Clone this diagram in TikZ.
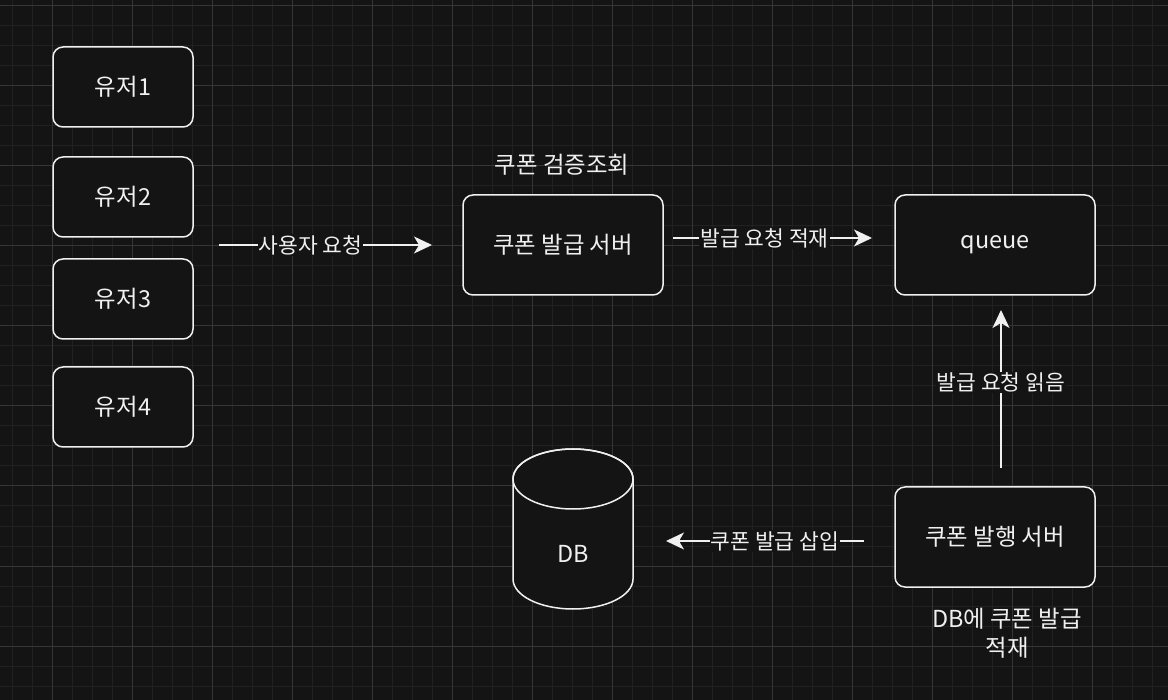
\documentclass[tikz,border=0pt]{standalone}
\usepackage{fontspec}
\setmainfont{Noto Sans CJK KR}
\usetikzlibrary{arrows.meta}
\definecolor{bg}{HTML}{141414}
\definecolor{gminor}{HTML}{212121}
\definecolor{gmajor}{HTML}{363636}
\definecolor{fg}{HTML}{F0F0F0}
\tikzset{
  box/.style={draw=fg, line width=1.5pt, rounded corners=10pt, fill=bg, text=fg, font=\fontsize{23.4}{28}\selectfont},
  plain/.style={text=fg, font=\fontsize{23.4}{29}\selectfont, align=center},
  conn/.style={draw=fg, line width=1.5pt, -{Stealth[length=18pt,width=17pt,inset=5pt]}},
  elabel/.style={fill=bg, text=fg, inner sep=1pt, font=\fontsize{21.5}{26}\selectfont},
}
\begin{document}
\begin{tikzpicture}[x=1pt,y=-1pt]
\fill[bg] (0,0) rectangle (1168,700);
\useasboundingbox (0,0) rectangle (1168,700);
\foreach \x in {12,32,...,1168} \draw[gminor, line width=1pt] (\x,0) -- (\x,700);
\foreach \y in {6,26,...,700} \draw[gminor, line width=1pt] (0,\y) -- (1168,\y);
\foreach \x in {52,132,...,1168} \draw[gmajor, line width=1pt] (\x,0) -- (\x,700);
\foreach \y in {6,86,...,700} \draw[gmajor, line width=1pt] (0,\y) -- (1168,\y);

\node[box, minimum width=140, minimum height=80] (u1) at (123,87) {유저1};
\node[box, minimum width=140, minimum height=80] (u2) at (123,197) {유저2};
\node[box, minimum width=140, minimum height=80] (u3) at (123,299) {유저3};
\node[box, minimum width=140, minimum height=80] (u4) at (123,407) {유저4};

\node[box, minimum width=200, minimum height=100] (issue) at (563,245) {쿠폰 발급 서버};
\node[box, minimum width=200, minimum height=100] (queue) at (995,245) {queue};
\node[box, minimum width=200, minimum height=100] (pub) at (995,537) {쿠폰 발행 서버};

\node[plain] (verify) at (562,165) {쿠폰 검증조회};
\node[plain] (note) at (1007,633) {DB에 쿠폰 발급\\적재};

% DB cylinder
\filldraw[draw=fg, fill=bg, line width=1.5pt]
  (513,479) -- (513,579) arc[start angle=180, end angle=360, x radius=60pt, y radius=30pt]
  -- (633,479) arc[start angle=0, end angle=180, x radius=60pt, y radius=30pt] -- cycle;
\draw[fg, line width=1.5pt] (573,479) ellipse[x radius=60pt, y radius=30pt];
\node[text=fg, font=\fontsize{23.4}{28}\selectfont] (db) at (573,554) {DB};

\coordinate (a1s) at (219,245);
\coordinate (a1e) at (432,245);
\coordinate (a2s) at (673,238);
\coordinate (a2e) at (872,238);
\coordinate (a3s) at (1001,468);
\coordinate (a3e) at (1001,310);
\coordinate (a4s) at (864,541);
\coordinate (a4e) at (666,541);

\draw[conn] (a1s) -- node[elabel, pos=0.43] {사용자 요청} (a1e);
\draw[conn] (a2s) -- node[elabel, pos=0.46] {발급 요청 적재} (a2e);
\draw[conn] (a3s) -- node[elabel, pos=0.54] {발급 요청 읽음} (a3e);
\draw[conn] (a4s) -- node[elabel, pos=0.45] {쿠폰 발급 삽입} (a4e);
\end{tikzpicture}
\end{document}
